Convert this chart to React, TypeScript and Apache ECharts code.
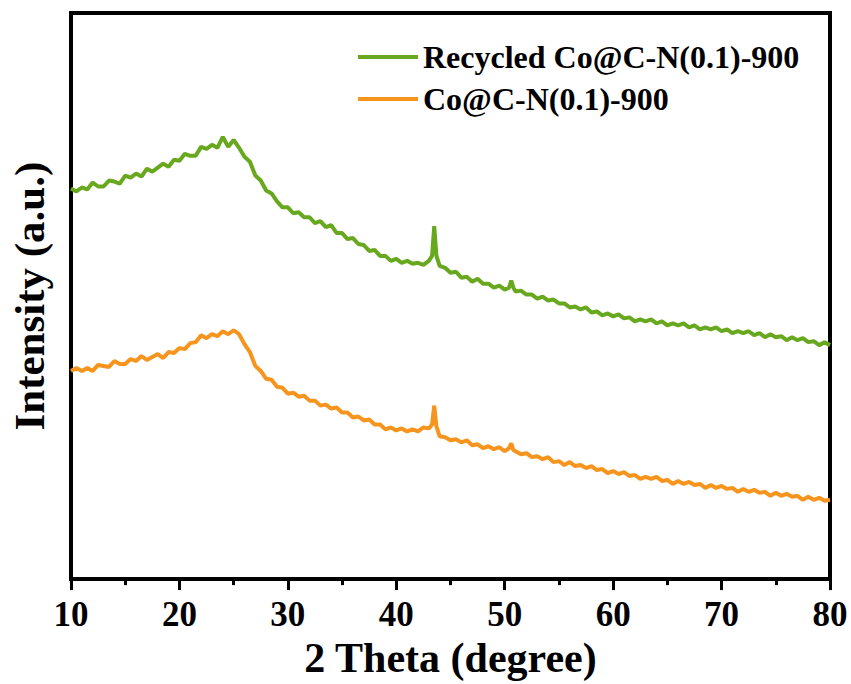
import React, { useEffect, useRef } from "react";
import * as echarts from "echarts";

const twoTheta = [
  10, 10.5, 11, 11.5, 12, 12.5, 13, 13.5, 14, 14.5,
  15, 15.5, 16, 16.5, 17, 17.5, 18, 18.5, 19, 19.5,
  20, 20.5, 21, 21.5, 22, 22.5, 23, 23.5, 24, 24.5,
  25, 25.5, 26, 26.5, 27, 27.5, 28, 28.5, 29, 29.5,
  30, 30.5, 31, 31.5, 32, 32.5, 33, 33.5, 34, 34.5,
  35, 35.5, 36, 36.5, 37, 37.5, 38, 38.5, 39, 39.5,
  40, 40.5, 41, 41.5, 42, 42.5, 43, 43.3, 43.5, 43.7,
  44, 44.5, 45, 45.5, 46, 46.5, 47, 47.5, 48, 48.5,
  49, 49.5, 50, 50.4, 50.6, 50.8, 51, 51.5, 52, 52.5,
  53, 53.5, 54, 54.5, 55, 55.5, 56, 56.5, 57, 57.5,
  58, 58.5, 59, 59.5, 60, 60.5, 61, 61.5, 62, 62.5,
  63, 63.5, 64, 64.5, 65, 65.5, 66, 66.5, 67, 67.5,
  68, 68.5, 69, 69.5, 70, 70.5, 71, 71.5, 72, 72.5,
  73, 73.5, 74, 74.5, 75, 75.5, 76, 76.5, 77, 77.5,
  78, 78.5, 79, 79.5, 80,
];

const recycled = [
  394, 391, 395, 393, 400, 396, 396, 402, 401, 399,
  407, 405, 409, 406, 414, 411, 415, 419, 416, 423,
  422, 429, 427, 427, 436, 434, 438, 435, 446, 436,
  443, 435, 426, 421, 407, 402, 392, 389, 381, 375,
  375, 369, 370, 365, 365, 359, 361, 355, 357, 349,
  349, 343, 344, 338, 337, 331, 332, 326, 326, 321,
  323, 319, 321, 318, 319, 317, 321, 326, 356, 326,
  316, 314, 309, 310, 304, 305, 300, 303, 298, 298,
  294, 296, 292, 294, 301, 294, 290, 291, 287, 287,
  283, 285, 281, 282, 278, 278, 274, 275, 272, 274,
  269, 270, 266, 268, 265, 267, 263, 264, 260, 262,
  260, 262, 258, 260, 256, 258, 256, 258, 254, 256,
  252, 254, 252, 254, 250, 252, 248, 250, 248, 250,
  246, 248, 244, 247, 244, 245, 241, 244, 241, 243,
  239, 240, 236, 239, 236,
];

const fresh = [
  210, 213, 210, 213, 210, 216, 215, 214, 220, 217,
  217, 222, 220, 225, 221, 224, 227, 223, 229, 228,
  233, 232, 238, 239, 246, 243, 247, 245, 250, 247,
  251, 247, 237, 229, 215, 210, 202, 201, 194, 193,
  187, 188, 184, 185, 180, 180, 175, 176, 172, 173,
  168, 168, 163, 164, 160, 161, 156, 156, 151, 153,
  150, 152, 149, 151, 149, 153, 152, 156, 175, 154,
  144, 143, 140, 141, 138, 140, 135, 136, 132, 134,
  131, 133, 129, 132, 137, 130, 129, 126, 127, 123,
  124, 121, 123, 118, 119, 115, 118, 114, 115, 112,
  114, 110, 111, 107, 109, 106, 108, 104, 105, 101,
  103, 101, 103, 99, 100, 96, 99, 96, 98, 95,
  96, 92, 95, 92, 94, 91, 92, 88, 91, 88,
  90, 87, 88, 84, 87, 84, 86, 83, 84, 80,
  83, 80, 82, 79, 80,
];

const seriesNames = ["Recycled Co@C-N(0.1)-900", "Co@C-N(0.1)-900"];
const seriesColors = ["#68a81f", "#f7941d"];

const FONT = "'Liberation Serif', 'Times New Roman', serif";

export default function App() {
  const ref = useRef<HTMLDivElement>(null);

  useEffect(() => {
    if (!ref.current) return;
    const chart = echarts.init(ref.current, undefined, { renderer: "svg" });
    const seriesData = [recycled, fresh];
    chart.setOption({
      animation: false,
      backgroundColor: "#ffffff",
      grid: {
        left: 69,
        right: 21,
        top: 13,
        bottom: 97,
        show: true,
        borderColor: "#000",
        borderWidth: 4,
      },
      legend: {
        orient: "vertical",
        left: 353,
        top: 36,
        icon: "rect",
        itemWidth: 60,
        itemHeight: 4,
        itemGap: 10,
        itemTextGap: 13,
        data: seriesNames,
        textStyle: {
          fontFamily: FONT,
          fontWeight: "bold",
          fontSize: 32,
          lineHeight: 31,
          color: "#000",
        },
      },
      xAxis: {
        type: "value",
        min: 10,
        max: 80,
        interval: 10,
        name: "2 Theta (degree)",
        nameLocation: "middle",
        nameGap: 53,
        nameTextStyle: {
          fontFamily: FONT,
          fontWeight: "bold",
          fontSize: 42,
          color: "#000",
        },
        axisLine: { show: true, lineStyle: { color: "#000", width: 4 } },
        axisTick: { show: true, length: 11, lineStyle: { color: "#000", width: 3 } },
        minorTick: { show: true, splitNumber: 2, length: 6, lineStyle: { color: "#000", width: 3 } },
        splitLine: { show: false },
        minorSplitLine: { show: false },
        axisLabel: {
          margin: 18,
          fontFamily: FONT,
          fontWeight: "bold",
          fontSize: 35,
          color: "#000",
        },
      },
      yAxis: {
        type: "value",
        min: 0,
        max: 571,
        name: "Intensity (a.u.)",
        nameLocation: "middle",
        nameGap: 20,
        nameTextStyle: {
          fontFamily: FONT,
          fontWeight: "bold",
          fontSize: 43,
          color: "#000",
        },
        axisLine: { show: false },
        axisTick: { show: false },
        axisLabel: { show: false },
        splitLine: { show: false },
      },
      series: seriesNames.map((name, k) => ({
        name,
        type: "line",
        showSymbol: false,
        symbol: "none",
        color: seriesColors[k],
        lineStyle: { color: seriesColors[k], width: 4 },
        data: twoTheta.map((t, i) => [t, seriesData[k][i]]),
      })),
    });
    return () => chart.dispose();
  }, []);

  return (
    <div
      ref={ref}
      style={{ position: "absolute", left: 0, top: 0, width: 851, height: 684 }}
    />
  );
}
